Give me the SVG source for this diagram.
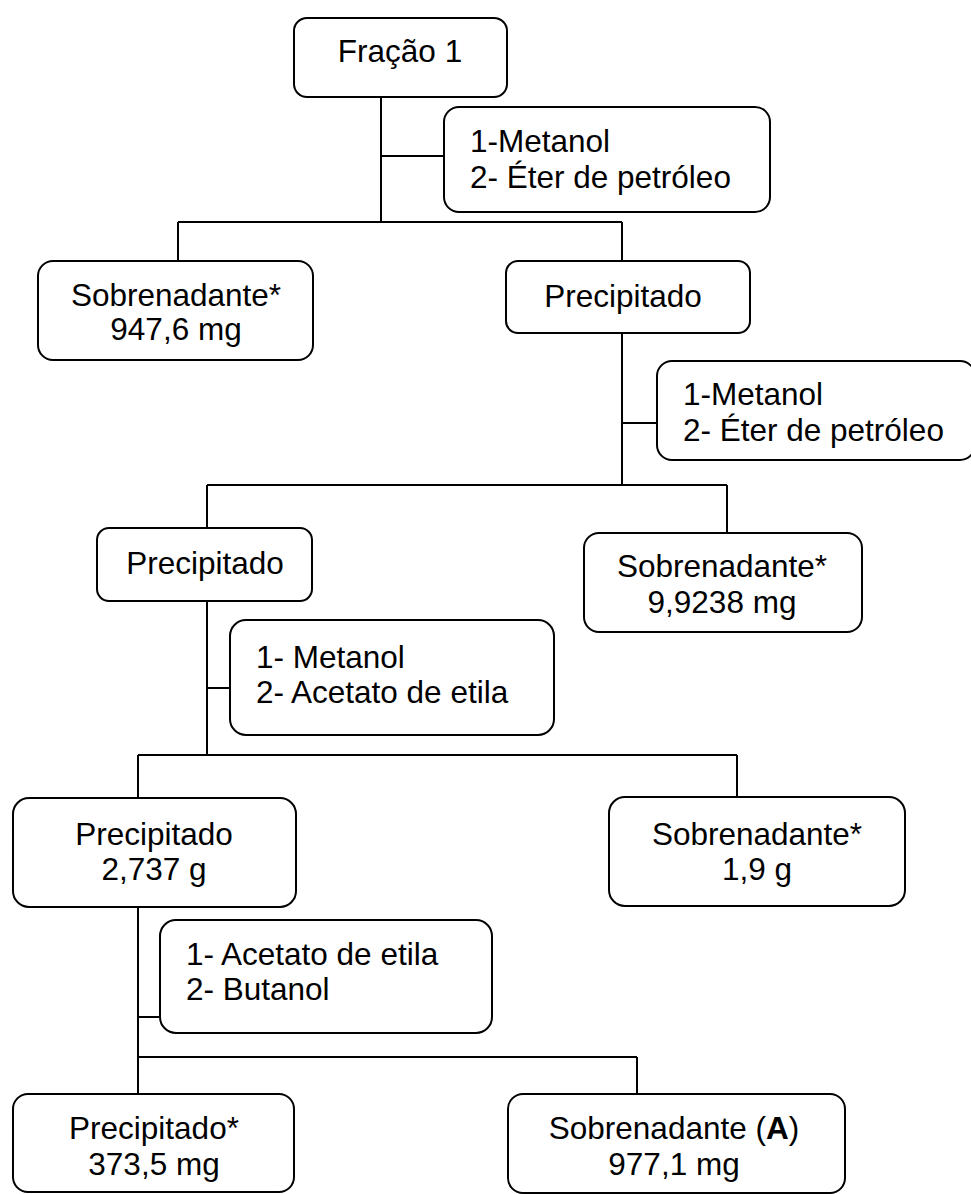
<svg xmlns="http://www.w3.org/2000/svg" width="971" height="1194" viewBox="0 0 971 1194">
  <style>
    .box { fill: #fff; stroke: #000; stroke-width: 2; }
    .wire { fill: none; stroke: #000; stroke-width: 2; }
    text { font-family: "Liberation Sans", Arial, sans-serif; font-size: 31.5px; fill: #000; }
    .c { text-anchor: middle; }
  </style>
  <rect width="971" height="1194" fill="#fff"/>

  <!-- connectors -->
  <g id="connectors" class="wire">
    <path d="M381 97 V222 M178 222 H622 M178 222 V261 M622 222 V261 M381 156 H444"/>
    <path d="M622 333 V485 M207 485 H727 M207 485 V528 M727 485 V533 M622 423 H657"/>
    <path d="M207 601 V755 M138 755 H737 M138 755 V798 M737 755 V797 M207 688 H230"/>
    <path d="M138 907 V1094 M138 1057 H637 M637 1057 V1094 M138 1017 H160"/>
  </g>

  <g id="fracao1">
    <rect class="box" x="294" y="18" width="213" height="79" rx="13"/>
    <text class="c" x="400" y="62">Fração 1</text>
  </g>

  <g id="solventes1">
    <rect class="box" x="444" y="107" width="326" height="105" rx="15"/>
    <text x="470" y="152">1-Metanol</text>
    <text x="470" y="188">2- Éter de petróleo</text>
  </g>

  <g id="sobrenadante1">
    <rect class="box" x="38" y="261" width="275" height="99" rx="15"/>
    <text class="c" x="176" y="306">Sobrenadante*</text>
    <text class="c" x="176" y="340">947,6 mg</text>
  </g>

  <g id="precipitado1">
    <rect class="box" x="506" y="261" width="244" height="72" rx="12"/>
    <text class="c" x="623" y="307">Precipitado</text>
  </g>

  <g id="solventes2">
    <rect class="box" x="657" y="361" width="318" height="99" rx="15"/>
    <text x="683" y="405">1-Metanol</text>
    <text x="683" y="441">2- Éter de petróleo</text>
  </g>

  <g id="precipitado2">
    <rect class="box" x="97" y="528" width="215" height="73" rx="12"/>
    <text class="c" x="205" y="574">Precipitado</text>
  </g>

  <g id="sobrenadante2">
    <rect class="box" x="584" y="533" width="278" height="99" rx="15"/>
    <text class="c" x="722" y="577">Sobrenadante*</text>
    <text class="c" x="722" y="613">9,9238 mg</text>
  </g>

  <g id="solventes3">
    <rect class="box" x="230" y="620" width="324" height="115" rx="16"/>
    <text x="256" y="668">1- Metanol</text>
    <text x="256" y="703">2- Acetato de etila</text>
  </g>

  <g id="precipitado3">
    <rect class="box" x="13" y="798" width="283" height="109" rx="16"/>
    <text class="c" x="154" y="845">Precipitado</text>
    <text class="c" x="154" y="880">2,737 g</text>
  </g>

  <g id="sobrenadante3">
    <rect class="box" x="609" y="797" width="296" height="109" rx="16"/>
    <text class="c" x="757" y="845">Sobrenadante*</text>
    <text class="c" x="757" y="880">1,9 g</text>
  </g>

  <g id="solventes4">
    <rect class="box" x="160" y="920" width="332" height="113" rx="16"/>
    <text x="186" y="965">1- Acetato de etila</text>
    <text x="186" y="1000">2- Butanol</text>
  </g>

  <g id="precipitado4">
    <rect class="box" x="13" y="1094" width="281" height="98" rx="15"/>
    <text class="c" x="154" y="1139">Precipitado*</text>
    <text class="c" x="154" y="1175">373,5 mg</text>
  </g>

  <g id="sobrenadanteA">
    <rect class="box" x="508" y="1094" width="337" height="99" rx="15"/>
    <text class="c" x="674" y="1139">Sobrenadante (<tspan font-weight="bold">A</tspan>)</text>
    <text class="c" x="674" y="1175">977,1 mg</text>
  </g>
</svg>
